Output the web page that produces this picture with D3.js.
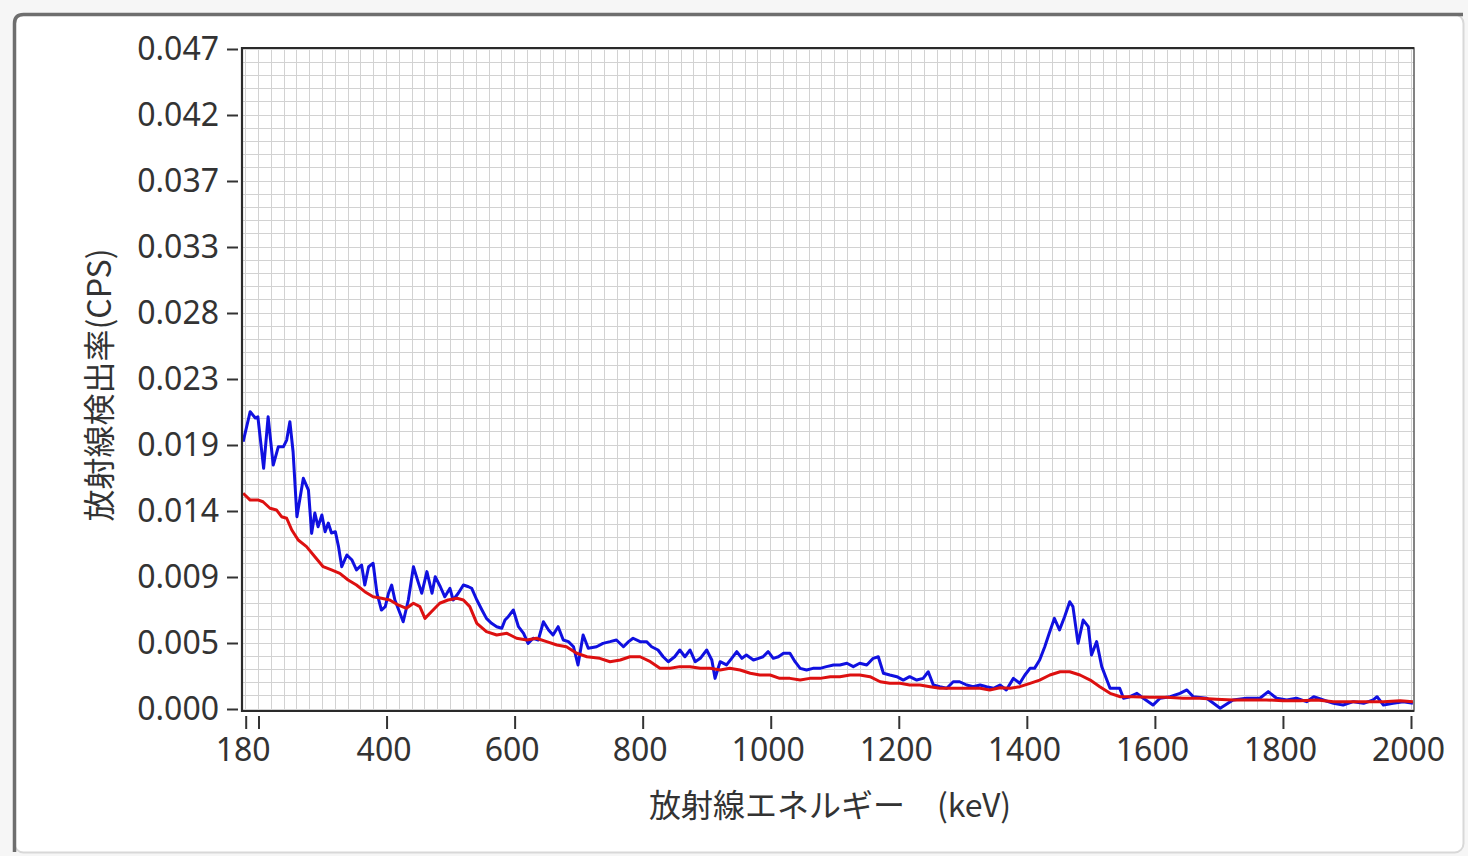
<!DOCTYPE html>
<html>
<head>
<meta charset="utf-8">
<script src="https://cdn.jsdelivr.net/npm/d3@7"></script>
<style>
  html, body { margin: 0; padding: 0; background: #f6f6f6; }
  svg { display: block; }
</style>
</head>
<body>
<svg id="chart" width="1468" height="856"></svg>
<script>
// ---- data ----
const xTickValues = [180, 200, 400, 600, 800, 1000, 1200, 1400, 1600, 1800, 2000];
const xTickLabels = ["180", "", "400", "600", "800", "1000", "1200", "1400", "1600", "1800", "2000"];
const yMax = 0.04675;
const yTickLabels = ["0.000", "0.005", "0.009", "0.014", "0.019", "0.023", "0.028", "0.033", "0.037", "0.042", "0.047"];
const xTitle = "放射線エネルギー　(keV)";
const yTitle = "放射線検出率(CPS)";

const blueKeV = [176,187,195,199,208,215,223,231,239,244,249,254,260,270,278,283,288,293,299,304,309,314,320,325,330,338,346,353,361,366,372,379,385,392,398,403,408,413,421,426,434,442,450,455,463,471,476,484,491,499,504,512,520,528,533,541,549,556,564,572,580,585,590,598,606,614,621,629,637,645,653,660,668,676,684,692,699,707,715,728,738,749,759,770,778,785,796,806,814,824,832,840,850,858,866,874,882,890,900,908,913,921,931,939,947,955,962,973,981,988,996,1004,1012,1020,1030,1038,1046,1056,1066,1077,1087,1098,1108,1119,1129,1139,1150,1160,1168,1176,1186,1197,1207,1217,1228,1238,1246,1254,1264,1275,1285,1295,1306,1316,1327,1337,1348,1358,1368,1379,1389,1397,1405,1412,1420,1428,1435,1443,1451,1459,1467,1472,1480,1488,1496,1501,1509,1517,1525,1530,1538,1545,1551,1561,1572,1582,1597,1608,1624,1639,1650,1660,1681,1702,1722,1743,1764,1777,1790,1806,1821,1837,1848,1863,1879,1894,1910,1926,1941,1947,1957,1972,1988,2003];
const blueCPS = [0.01893,0.02106,0.02061,0.02070,0.01705,0.02070,0.01728,0.01858,0.01858,0.01905,0.02035,0.01822,0.01362,0.01634,0.01551,0.01244,0.01388,0.01291,0.01374,0.01256,0.01317,0.01247,0.01256,0.01150,0.01008,0.01091,0.01055,0.00985,0.01020,0.00878,0.01008,0.01032,0.00820,0.00701,0.00725,0.00820,0.00878,0.00772,0.00678,0.00618,0.00772,0.01008,0.00890,0.00820,0.00973,0.00820,0.00937,0.00866,0.00795,0.00855,0.00772,0.00820,0.00878,0.00866,0.00855,0.00772,0.00701,0.00642,0.00607,0.00583,0.00572,0.00630,0.00654,0.00701,0.00583,0.00536,0.00465,0.00501,0.00489,0.00618,0.00560,0.00524,0.00583,0.00489,0.00477,0.00441,0.00312,0.00524,0.00430,0.00441,0.00465,0.00477,0.00489,0.00441,0.00477,0.00501,0.00477,0.00477,0.00441,0.00418,0.00370,0.00335,0.00370,0.00418,0.00370,0.00418,0.00335,0.00359,0.00418,0.00347,0.00217,0.00335,0.00312,0.00359,0.00406,0.00359,0.00382,0.00347,0.00359,0.00370,0.00406,0.00359,0.00370,0.00395,0.00395,0.00335,0.00288,0.00276,0.00288,0.00288,0.00300,0.00312,0.00312,0.00324,0.00300,0.00324,0.00312,0.00359,0.00370,0.00253,0.00241,0.00229,0.00205,0.00229,0.00205,0.00217,0.00264,0.00170,0.00158,0.00147,0.00193,0.00193,0.00170,0.00158,0.00170,0.00158,0.00147,0.00170,0.00135,0.00217,0.00182,0.00241,0.00288,0.00288,0.00347,0.00441,0.00536,0.00642,0.00560,0.00654,0.00760,0.00725,0.00465,0.00630,0.00583,0.00382,0.00477,0.00300,0.00205,0.00147,0.00147,0.00147,0.00076,0.00087,0.00111,0.00076,0.00028,0.00076,0.00087,0.00111,0.00135,0.00087,0.00076,0.00005,0.00064,0.00076,0.00076,0.00123,0.00076,0.00064,0.00076,0.00052,0.00087,0.00064,0.00040,0.00028,0.00052,0.00040,0.00064,0.00087,0.00028,0.00040,0.00052,0.00040];

const redKeV = [176,187,200,207,218,228,236,244,252,262,275,288,301,314,327,340,353,366,379,392,405,418,431,442,452,460,470,483,496,510,520,530,541,556,572,588,603,619,634,650,666,681,697,713,733,749,765,780,796,812,827,843,858,874,890,905,921,936,952,968,983,999,1014,1030,1046,1061,1077,1093,1108,1124,1139,1155,1171,1186,1202,1217,1233,1249,1264,1280,1295,1311,1327,1342,1358,1374,1389,1405,1420,1436,1452,1467,1483,1499,1514,1530,1546,1566,1592,1618,1644,1670,1696,1722,1748,1774,1800,1827,1853,1879,1905,1931,1957,1983,2003];
const redCPS = [0.01528,0.01480,0.01480,0.01468,0.01422,0.01410,0.01362,0.01351,0.01268,0.01197,0.01150,0.01079,0.01008,0.00985,0.00961,0.00914,0.00878,0.00831,0.00795,0.00784,0.00772,0.00737,0.00713,0.00749,0.00725,0.00642,0.00689,0.00749,0.00772,0.00784,0.00772,0.00725,0.00607,0.00548,0.00524,0.00536,0.00501,0.00489,0.00501,0.00477,0.00453,0.00441,0.00395,0.00370,0.00359,0.00335,0.00347,0.00370,0.00370,0.00335,0.00288,0.00288,0.00300,0.00300,0.00288,0.00288,0.00276,0.00288,0.00276,0.00253,0.00241,0.00241,0.00217,0.00217,0.00205,0.00217,0.00217,0.00229,0.00229,0.00241,0.00241,0.00229,0.00193,0.00182,0.00182,0.00170,0.00170,0.00158,0.00147,0.00147,0.00147,0.00147,0.00147,0.00135,0.00150,0.00147,0.00158,0.00182,0.00205,0.00241,0.00264,0.00264,0.00241,0.00205,0.00158,0.00111,0.00087,0.00087,0.00083,0.00083,0.00076,0.00076,0.00069,0.00064,0.00064,0.00064,0.00059,0.00059,0.00064,0.00052,0.00052,0.00052,0.00052,0.00059,0.00052];

// ---- layout ----
const svg = d3.select("#chart");
const plot = { left: 242, right: 1414, top: 48, bottom: 711 };

const x = d3.scaleLinear().domain([180, 2000]).range([245.7, 1411]);
const y = d3.scaleLinear().domain([0, yMax]).range([709, 49]);

// outer panel
svg.append("rect").attr("x", 14.5).attr("y", 14.5).attr("width", 1449).attr("height", 838)
  .attr("rx", 9).attr("fill", "#ffffff").attr("stroke", "#d8d8d8").attr("stroke-width", 2);
svg.append("path")
  .attr("d", "M14.5,852 L14.5,23.5 Q14.5,14.5 23.5,14.5 L1463,14.5")
  .attr("fill", "none").attr("stroke", "#6e6e6e").attr("stroke-width", 3.5);

// plot background
svg.append("rect").attr("x", plot.left).attr("y", plot.top)
  .attr("width", plot.right - plot.left).attr("height", plot.bottom - plot.top)
  .attr("fill", "#ffffff");

// grid
const grid = svg.append("g").attr("stroke", "#d2d2d2").attr("stroke-width", 1).attr("shape-rendering", "crispEdges");
const vGrid = d3.range(180, 2001, 20);
grid.selectAll("line.v").data(vGrid).join("line").attr("class", "v")
  .attr("x1", d => x(d)).attr("x2", d => x(d)).attr("y1", plot.top).attr("y2", plot.bottom);
const hGrid = d3.range(0, 51).map(i => i * yMax / 50);
grid.selectAll("line.h").data(hGrid).join("line").attr("class", "h")
  .attr("x1", plot.left).attr("x2", plot.right).attr("y1", d => y(d)).attr("y2", d => y(d));

// clip
svg.append("clipPath").attr("id", "clip").append("rect")
  .attr("x", plot.left).attr("y", plot.top)
  .attr("width", plot.right - plot.left).attr("height", plot.bottom - plot.top);

const line = d3.line().x(d => x(d[0])).y(d => y(d[1]));
const blue = blueKeV.map((k, i) => [k, blueCPS[i]]);
const red = redKeV.map((k, i) => [k, redCPS[i]]);

const lines = svg.append("g").attr("clip-path", "url(#clip)");
lines.append("path").datum(blue).attr("d", line).attr("fill", "none")
  .attr("stroke", "#1010e0").attr("stroke-width", 3).attr("stroke-linejoin", "round");
lines.append("path").datum(red).attr("d", line).attr("fill", "none")
  .attr("stroke", "#dd1010").attr("stroke-width", 3).attr("stroke-linejoin", "round");

// plot frame
svg.append("rect").attr("x", plot.left).attr("y", plot.top)
  .attr("width", plot.right - plot.left).attr("height", plot.bottom - plot.top)
  .attr("fill", "none").attr("stroke", "#5a5a5a").attr("stroke-width", 1.5);
svg.append("path")
  .attr("d", `M${plot.right},${plot.top} L${plot.left},${plot.top} L${plot.left},${plot.bottom} L${plot.right},${plot.bottom}`)
  .attr("fill", "none").attr("stroke", "#2a2a2a").attr("stroke-width", 2.2);

// y axis ticks & labels
const yTicks = d3.range(0, 11).map(i => i * yMax / 10);
const yAxis = d3.axisLeft(y).tickValues(yTicks).tickFormat((d, i) => yTickLabels[i])
  .tickSizeInner(11).tickSizeOuter(0).tickPadding(8);
const gy = svg.append("g").attr("transform", `translate(${plot.left - 4},0)`).call(yAxis);
gy.select(".domain").remove();
gy.selectAll(".tick line").attr("stroke", "#333").attr("stroke-width", 2);
gy.selectAll(".tick text").attr("fill", "#333").style("font-family", "'Noto Sans', 'DejaVu Sans', sans-serif").style("font-size", "32px");

// x axis ticks & labels
const xAxis = d3.axisBottom(x).tickValues(xTickValues).tickFormat((d, i) => xTickLabels[i])
  .tickSizeInner(13).tickSizeOuter(0).tickPadding(9);
const gx = svg.append("g").attr("transform", `translate(0,${plot.bottom + 5})`).call(xAxis);
gx.select(".domain").remove();
gx.selectAll(".tick line").attr("stroke", "#333").attr("stroke-width", 2);
gx.selectAll(".tick text").attr("fill", "#333").attr("dx", -3).style("font-family", "'Noto Sans', 'DejaVu Sans', sans-serif").style("font-size", "32px");

// titles
svg.append("text").attr("x", 830).attr("y", 817).attr("text-anchor", "middle")
  .attr("fill", "#333").style("font-family", "'Noto Sans CJK JP', 'Noto Sans', sans-serif").style("font-size", "32px")
  .text(xTitle);
svg.append("text").attr("transform", "translate(111,385) rotate(-90)").attr("text-anchor", "middle")
  .attr("fill", "#333").style("font-family", "'Noto Sans CJK JP', 'Noto Sans', sans-serif").style("font-size", "32px")
  .text(yTitle);
</script>
</body>
</html>
